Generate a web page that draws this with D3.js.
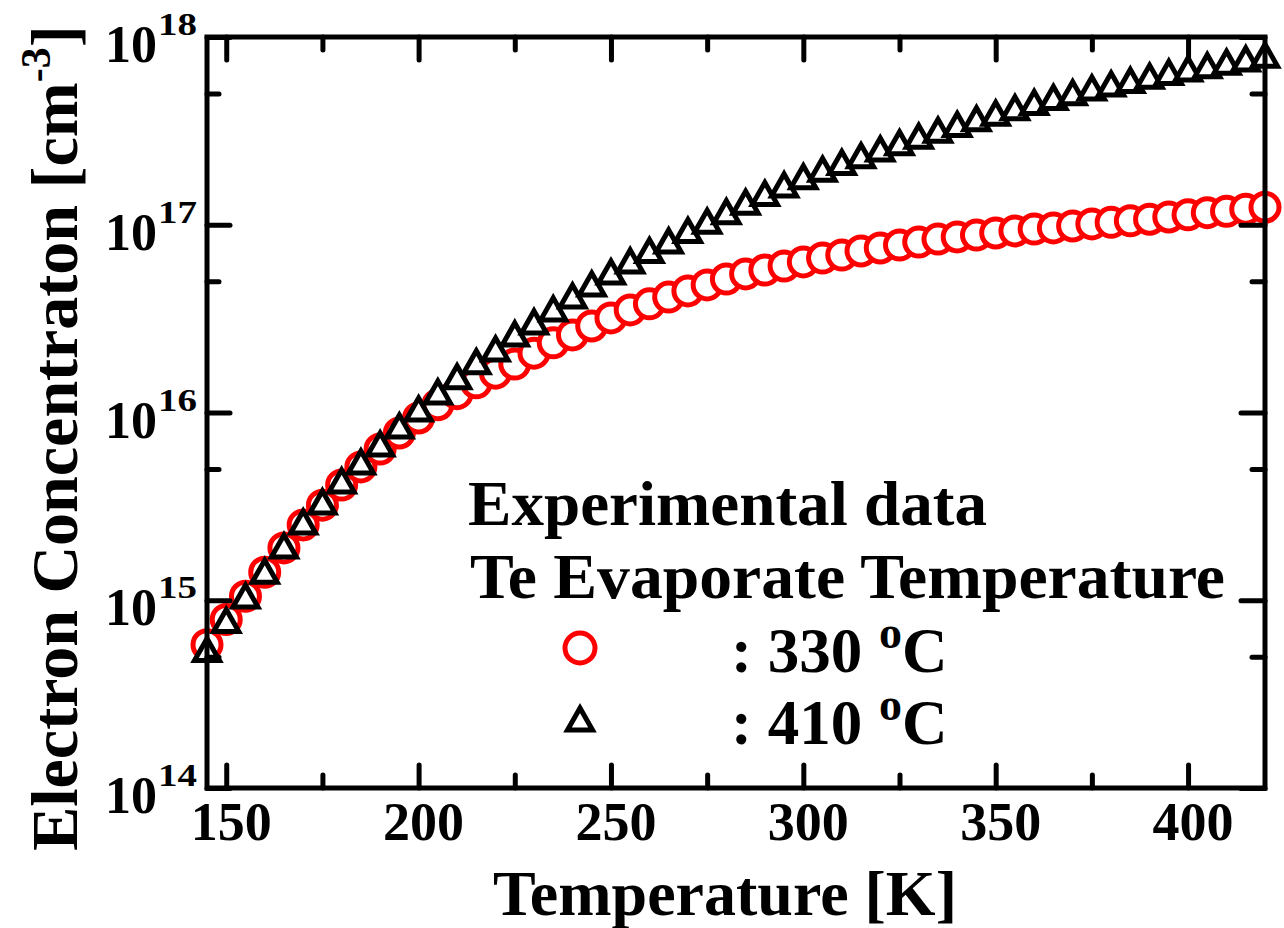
<!DOCTYPE html>
<html>
<head>
<meta charset="utf-8">
<script src="https://cdn.jsdelivr.net/npm/d3@7"></script>
<style>
  html, body { margin: 0; padding: 0; background: #fff; }
  svg { display: block; }
  text { font-family: "Liberation Serif", "Times New Roman", serif; font-weight: bold; fill: #000; }
</style>
</head>
<body>
<svg id="chart" width="1284" height="928"></svg>
<script>
// Temperature points [K]
const temperatures = [145,150,155,160,165,170,175,180,185,190,195,200,205,210,215,220,225,230,235,240,
  245,250,255,260,265,270,275,280,285,290,295,300,305,310,315,320,325,330,335,340,
  345,350,355,360,365,370,375,380,385,390,395,400,405,410,415,420];

// Electron concentration [cm^-3], Te evaporate temperature 330 °C
const conc330 = [5.8e14,7.9e14,1.05e15,1.41e15,1.90e15,2.52e15,3.21e15,4.11e15,5.13e15,6.39e15,
  7.78e15,9.35e15,1.10e16,1.26e16,1.44e16,1.62e16,1.81e16,2.07e16,2.35e16,2.59e16,
  2.89e16,3.19e16,3.52e16,3.79e16,4.12e16,4.44e16,4.78e16,5.14e16,5.47e16,5.74e16,
  6.03e16,6.34e16,6.65e16,6.90e16,7.25e16,7.52e16,7.80e16,8.09e16,8.39e16,8.61e16,
  8.81e16,9.04e16,9.27e16,9.49e16,9.62e16,9.85e16,1.01e17,1.03e17,1.05e17,1.07e17,
  1.10e17,1.13e17,1.16e17,1.18e17,1.21e17,1.24e17];

// Electron concentration [cm^-3], Te evaporate temperature 410 °C
const conc410 = [5.4e14,7.7e14,1.04e15,1.41e15,1.92e15,2.58e15,3.30e15,4.27e15,5.38e15,6.71e15,
  8.37e15,1.03e16,1.27e16,1.53e16,1.84e16,2.15e16,2.59e16,3.00e16,3.52e16,4.12e16,
  4.78e16,5.53e16,6.34e16,7.2e16,8.1e16,9.2e16,1.03e17,1.16e17,1.30e17,1.45e17,
  1.61e17,1.78e17,1.95e17,2.12e17,2.30e17,2.50e17,2.70e17,2.92e17,3.15e17,3.38e17,
  3.62e17,3.88e17,4.15e17,4.42e17,4.70e17,4.98e17,5.28e17,5.55e17,5.80e17,6.10e17,
  6.40e17,6.68e17,6.95e17,7.25e17,7.55e17,7.90e17];

// Axis ticks
const xMajorTicks = [150,200,250,300,350,400];
const xMinorTicks = [175,225,275,325,375];
const yMajorTicks = [1e14,1e15,1e16,1e17,1e18];
const yMinorTicks = [5e14,5e15,5e16,5e17];
const yTickExponents = ["14","15","16","17","18"];

// Text
const xTitle = "Temperature [K]";
const yTitleMain = "Electron Concentraton [cm";
const yTitleSup = "-3";
const legendTitle1 = "Experimental data";
const legendTitle2 = "Te Evaporate Temperature";
const legendEntries = [
  { label: ": 330 ", unit: "C", symbol: "circle" },
  { label: ": 410 ", unit: "C", symbol: "triangle" }
];

const svg = d3.select("#chart");
const plot = { left: 207, right: 1265, top: 37, bottom: 788 };

const x = d3.scaleLinear().domain([145, 420]).range([plot.left, plot.right]);
const y = d3.scaleLog().domain([1e14, 1e18]).range([plot.bottom, plot.top]);

const triPath = "M0,-12L12.5,10L-12.5,10Z";

// Data markers (drawn first, axes sit on top)
const gData = svg.append("g");
gData.selectAll("circle.c330")
  .data(temperatures.map((t, i) => [t, conc330[i]]))
  .join("circle")
  .attr("class", "c330")
  .attr("cx", d => x(d[0]))
  .attr("cy", d => y(d[1]))
  .attr("r", 14)
  .attr("fill", "#fff")
  .attr("stroke", "#ff0000")
  .attr("stroke-width", 5);

gData.selectAll("path.t410")
  .data(temperatures.map((t, i) => [t, conc410[i]]))
  .join("path")
  .attr("class", "t410")
  .attr("d", triPath)
  .attr("transform", d => `translate(${x(d[0])},${y(d[1])})`)
  .attr("fill", "#fff")
  .attr("stroke", "#000")
  .attr("stroke-width", 5)
  .attr("stroke-linejoin", "miter");

// Axes: inward ticks on all four sides
function styleAxis(g) {
  g.select(".domain").remove();
  g.selectAll(".tick line").attr("stroke", "#000").attr("stroke-width", 5).attr("stroke-linecap", "round");
  g.selectAll(".tick text").remove();
}
const H = plot.bottom - plot.top, W = plot.right - plot.left;

svg.append("g").attr("transform", `translate(0,${plot.bottom})`)
  .call(d3.axisBottom(x).tickValues(xMajorTicks).tickSize(-23).tickFormat("")).call(styleAxis);
svg.append("g").attr("transform", `translate(0,${plot.bottom})`)
  .call(d3.axisBottom(x).tickValues(xMinorTicks).tickSize(-13).tickFormat("")).call(styleAxis);
svg.append("g").attr("transform", `translate(0,${plot.top})`)
  .call(d3.axisTop(x).tickValues(xMajorTicks).tickSize(-23).tickFormat("")).call(styleAxis);
svg.append("g").attr("transform", `translate(0,${plot.top})`)
  .call(d3.axisTop(x).tickValues(xMinorTicks).tickSize(-13).tickFormat("")).call(styleAxis);

svg.append("g").attr("transform", `translate(${plot.left},0)`)
  .call(d3.axisLeft(y).tickValues(yMajorTicks).tickSize(-23).tickFormat("")).call(styleAxis);
svg.append("g").attr("transform", `translate(${plot.left},0)`)
  .call(d3.axisLeft(y).tickValues(yMinorTicks).tickSize(-12).tickFormat("")).call(styleAxis);
svg.append("g").attr("transform", `translate(${plot.right},0)`)
  .call(d3.axisRight(y).tickValues(yMajorTicks).tickSize(-24).tickFormat("")).call(styleAxis);
svg.append("g").attr("transform", `translate(${plot.right},0)`)
  .call(d3.axisRight(y).tickValues(yMinorTicks).tickSize(-13).tickFormat("")).call(styleAxis);

// Frame
svg.append("rect")
  .attr("x", plot.left).attr("y", plot.top)
  .attr("width", W).attr("height", H)
  .attr("fill", "none").attr("stroke", "#000").attr("stroke-width", 5);

// X tick labels
svg.append("g").selectAll("text")
  .data(xMajorTicks)
  .join("text")
  .attr("x", d => x(d) + 5)
  .attr("y", 840)
  .attr("text-anchor", "middle")
  .attr("font-size", 54)
  .text(d => d);

// Y tick labels: 10 with superscript exponent
const gY = svg.append("g");
yMajorTicks.forEach((v, i) => {
  gY.append("text")
    .attr("x", 157).attr("y", y(v) + 25)
    .attr("text-anchor", "end")
    .attr("font-size", 52)
    .text("10");
  gY.append("text")
    .attr("x", 158).attr("y", y(v) - 2)
    .attr("font-size", 32)
    .attr("textLength", 39)
    .attr("lengthAdjust", "spacingAndGlyphs")
    .text(yTickExponents[i]);
});

// Axis titles
svg.append("text")
  .attr("x", 725).attr("y", 915)
  .attr("text-anchor", "middle")
  .attr("font-size", 64)
  .text(xTitle);

const yt = svg.append("text")
  .attr("transform", "translate(77,438) rotate(-90)")
  .attr("text-anchor", "middle")
  .attr("font-size", 66);
yt.append("tspan").text(yTitleMain);
yt.append("tspan").attr("font-size", 42).attr("dy", -27).text(yTitleSup);
yt.append("tspan").attr("dy", 27).text("]");

// Legend
svg.append("text").attr("x", 468).attr("y", 525).attr("font-size", 63)
  .attr("textLength", 519).attr("lengthAdjust", "spacingAndGlyphs").text(legendTitle1);
svg.append("text").attr("x", 470).attr("y", 598).attr("font-size", 63)
  .attr("textLength", 755).attr("lengthAdjust", "spacingAndGlyphs").text(legendTitle2);

const legendRows = [648, 720];
legendEntries.forEach((e, i) => {
  const cy = legendRows[i];
  if (e.symbol === "circle") {
    svg.append("circle").attr("cx", 580).attr("cy", cy).attr("r", 15)
      .attr("fill", "#fff").attr("stroke", "#ff0000").attr("stroke-width", 5);
  } else {
    svg.append("path").attr("d", triPath).attr("transform", `translate(580,${cy})`)
      .attr("fill", "#fff").attr("stroke", "#000").attr("stroke-width", 5);
  }
  const t = svg.append("text").attr("x", 731).attr("y", cy + 24).attr("font-size", 63);
  t.append("tspan").text(e.label);
  t.append("tspan").attr("x", 879).attr("font-size", 46).attr("dy", -24).text("o");
  t.append("tspan").attr("x", 902).attr("dy", 24).text(e.unit);
});
</script>
</body>
</html>
